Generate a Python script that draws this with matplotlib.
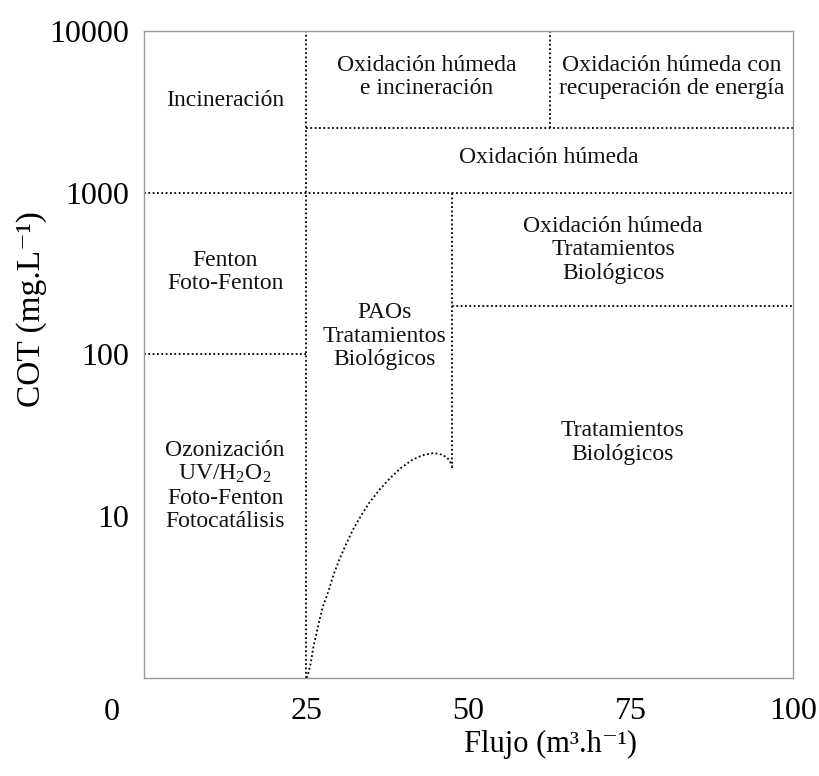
import matplotlib.pyplot as plt
from matplotlib.ticker import NullLocator, FixedLocator, FixedFormatter

plt.rcParams['font.family'] = ['Liberation Serif', 'DejaVu Serif']
plt.rcParams['mathtext.fontset'] = 'custom'
plt.rcParams['mathtext.rm'] = 'Liberation Serif'
plt.rcParams['mathtext.it'] = 'Liberation Serif:italic'

# axis ticks
x_ticks = [25, 50, 75, 100]
x_tick_labels = ['25', '50', '75', '100']
y_ticks = [10, 100, 1000, 10000]
y_tick_labels = ['10', '100', '1000', '10000']

# region boundaries: (x0, x1, y0, y1)
boundaries = [
    (25, 25, 1, 10000),
    (0, 100, 1000, 1000),
    (0, 25, 100, 100),
    (25, 100, 2500, 2500),
    (62.5, 62.5, 2500, 10000),
    (47.5, 47.5, 20, 1000),
    (47.5, 100, 200, 200),
]

# curve between PAOs and biological treatment
curve_x = [25.1, 25.6, 26.1, 26.8, 27.5, 28.4, 29.2, 30.1, 31.1, 32.2, 33.4,
           34.7, 36.3, 37.8, 39.6, 41.4, 42.9, 44.6, 46.0, 47.0, 47.5]
curve_y = [1.0, 1.18, 1.55, 2.08, 2.71, 3.43, 4.35, 5.39, 6.67, 8.26, 10.0,
           12.1, 14.6, 17.0, 19.9, 22.4, 23.8, 24.6, 24.0, 22.4, 20.4]

# region labels and where they sit
regions = [
    'Incineración',
    'Oxidación húmeda\ne incineración',
    'Oxidación húmeda con\nrecuperación de energía',
    'Oxidación húmeda',
    'Oxidación húmeda\nTratamientos\nBiológicos',
    'Fenton\nFoto-Fenton',
    'PAOs\nTratamientos\nBiológicos',
    'Tratamientos\nBiológicos',
    'Ozonización\nUV/H$_2$O$_2$\nFoto-Fenton\nFotocatálisis',
]
region_x = [12.5, 43.6, 81.3, 62.3, 72.3, 12.5, 37.1, 73.7, 12.5]
region_y = [3740, 5200, 5200, 1640, 443, 324, 130, 28.6, 15.4]

fig = plt.figure(figsize=(8.19, 7.76), dpi=100)
ax = fig.add_axes([0.1758, 0.1263, 0.7925, 0.8338])
ax.set_yscale('log')
ax.set_xlim(0, 100)
ax.set_ylim(1, 10000)

dots = (0, (1, 1.4))
for x0, x1, y0, y1 in boundaries:
    ax.plot([x0, x1], [y0, y1], color='black', lw=1.3, linestyle=dots)
ax.plot(curve_x, curve_y, color='black', lw=1.3, linestyle=dots)

for label, x, y in zip(regions, region_x, region_y):
    ax.text(x, y, label, ha='center', va='center', fontsize=17,
            linespacing=1.15, color='#111111')

ax.xaxis.set_major_locator(FixedLocator(x_ticks))
ax.xaxis.set_major_formatter(FixedFormatter(x_tick_labels))
ax.yaxis.set_major_locator(FixedLocator(y_ticks))
ax.yaxis.set_major_formatter(FixedFormatter(y_tick_labels))
ax.yaxis.set_minor_locator(NullLocator())
ax.xaxis.set_minor_locator(NullLocator())
ax.tick_params(axis='both', length=0, labelsize=23)
ax.tick_params(axis='x', pad=14)
ax.tick_params(axis='y', pad=11)
# the zero sits apart, left of the frame
ax.text(-0.05, -0.053, '0', transform=ax.transAxes, ha='center', va='center',
        fontsize=23)

for s in ax.spines.values():
    s.set_color('#9a9a9a')
    s.set_linewidth(1.0)

fig.text(0.672, 0.041, 'Flujo (m³.h⁻¹)', ha='center', va='center',
         fontsize=22)
fig.text(0.038, 0.602, 'COT (mg.L⁻¹)', ha='center', va='center',
         rotation=90, fontsize=24)

fig.savefig('out.png', dpi=100)
